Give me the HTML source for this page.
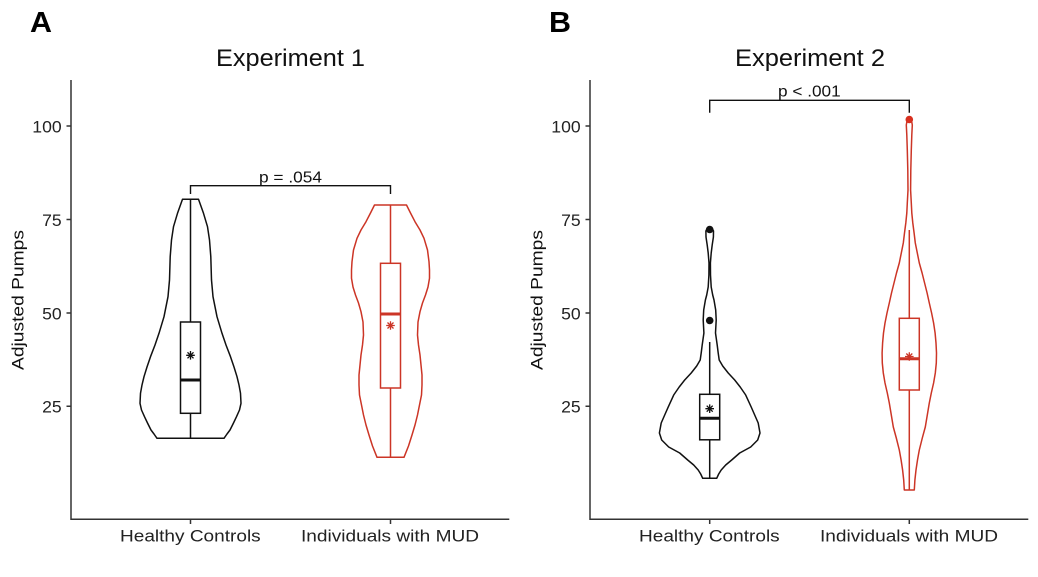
<!DOCTYPE html>
<html>
<head>
<meta charset="utf-8">
<style>
  html,body{margin:0;padding:0;background:#fff;}
  svg{display:block;}
  text{font-family:"Liberation Sans",Arial,sans-serif;}
</style>
</head>
<body>
<svg width="1038" height="577" viewBox="0 0 1038 577" xmlns="http://www.w3.org/2000/svg">
  <rect width="1038" height="577" fill="#fff"/>

  <!-- ===== Panel A ===== -->
  <text x="30" y="32" font-size="29" font-weight="bold" fill="#000" textLength="22" lengthAdjust="spacingAndGlyphs">A</text>
  <text x="216" y="66" font-size="24" fill="#111" textLength="149" lengthAdjust="spacingAndGlyphs">Experiment 1</text>

  <!-- axes -->
  <g stroke="#333" stroke-width="1.5" fill="none">
    <path d="M71,80 V519.3 H509.3"/>
    <path d="M66.5,126 H71 M66.5,219.5 H71 M66.5,313 H71 M66.5,406.3 H71"/>
    <path d="M190.5,519.3 V524 M390.5,519.3 V524"/>
  </g>
  <g font-size="16.5" fill="#222" text-anchor="end">
    <text x="61.7" y="132.3" textLength="29.4" lengthAdjust="spacingAndGlyphs">100</text>
    <text x="61.7" y="225.8" textLength="19.6" lengthAdjust="spacingAndGlyphs">75</text>
    <text x="61.7" y="319.3" textLength="19.6" lengthAdjust="spacingAndGlyphs">50</text>
    <text x="61.7" y="412.6" textLength="19.6" lengthAdjust="spacingAndGlyphs">25</text>
  </g>
  <text x="120" y="541.7" font-size="16.5" fill="#222" textLength="140.7" lengthAdjust="spacingAndGlyphs">Healthy Controls</text>
  <text x="301" y="541.7" font-size="16.5" fill="#222" textLength="178" lengthAdjust="spacingAndGlyphs">Individuals with MUD</text>
  <text transform="translate(23.5,370) rotate(-90)" x="0" y="0" font-size="17" fill="#111" textLength="140" lengthAdjust="spacingAndGlyphs">Adjusted Pumps</text>

  <!-- bracket A -->
  <path d="M190.5,194 V185.7 H390.5 V194" stroke="#111" stroke-width="1.4" fill="none"/>
  <text x="259" y="182.7" font-size="16" fill="#111" textLength="63" lengthAdjust="spacingAndGlyphs">p = .054</text>

  <!-- violin A1 -->
  <polygon fill="none" stroke="#111" stroke-width="1.5" stroke-linejoin="round"
    points="182.5,199.3 177.5,213.3 173.5,226.7 171.5,240 170.2,256.7 169.5,280 168,296.7 164,316.7 159,333.3 155,345 150.5,356.7 147,367 144,376.7 142,385 140.5,393.3 140,403.3 141.5,410 144.5,416.7 147.5,423 151,430 154,434 157,438.3 224,438.3 227,434 230,430 233.5,423 236.5,416.7 239.5,410 241,403.3 240.5,393.3 239,385 237,376.7 234,367 230.5,356.7 226,345 222,333.3 217,316.7 213,296.7 211.5,280 210.8,256.7 209.5,240 207.5,226.7 203.5,213.3 198.5,199.3"/>
  <g stroke="#111" stroke-width="1.5" fill="none">
    <path d="M190.5,199.3 V322 M190.5,413.3 V438.3"/>
    <rect x="180.5" y="322" width="20" height="91.3" fill="#fff"/>
    <path d="M180.5,380 H200.5" stroke-width="3"/>
    <path d="M186.2,355.3 H194.8 M190.5,351 V359.6 M187.5,352.3 L193.5,358.3 M187.5,358.3 L193.5,352.3" stroke-width="1.3"/>
  </g>

  <!-- violin A2 -->
  <polygon fill="none" stroke="#cc3526" stroke-width="1.5" stroke-linejoin="round"
    points="374.5,205 370.5,213 366,221.7 361,230 357,238.3 353.5,250 352,261.7 351.5,270 351.5,278.3 353,287 355.5,295 358.5,303 361,311.7 363,322 363.5,335 362.5,345 361,355 360,365 359,375 359,385 359.5,395 361.5,405 363.5,415 366,425 369,435 372.5,446 377,457.3 404,457.3 408.5,446 412,435 415,425 417.5,415 419.5,405 421.5,395 422,385 422,375 421,365 420,355 418.5,345 417.5,335 418,322 420,311.7 422.5,303 425.5,295 428,287 429.5,278.3 429.5,270 429,261.7 427.5,250 424,238.3 420,230 415,221.7 410.5,213 406.5,205"/>
  <g stroke="#cc3526" stroke-width="1.5" fill="none">
    <path d="M390.5,205 V263.3 M390.5,388 V457.3"/>
    <rect x="380.5" y="263.3" width="20" height="124.7" fill="#fff"/>
    <path d="M380.5,314 H400.5" stroke-width="3"/>
    <path d="M386.2,325.5 H394.8 M390.5,321.2 V329.8 M387.5,322.5 L393.5,328.5 M387.5,328.5 L393.5,322.5" stroke-width="1.3"/>
  </g>

  <!-- ===== Panel B ===== -->
  <text x="549" y="32" font-size="29" font-weight="bold" fill="#000" textLength="22" lengthAdjust="spacingAndGlyphs">B</text>
  <text x="735" y="66" font-size="24" fill="#111" textLength="150" lengthAdjust="spacingAndGlyphs">Experiment 2</text>

  <g stroke="#333" stroke-width="1.5" fill="none">
    <path d="M590,80 V519.3 H1028.3"/>
    <path d="M585.5,126 H590 M585.5,219.5 H590 M585.5,313 H590 M585.5,406.3 H590"/>
    <path d="M709.7,519.3 V524 M909.3,519.3 V524"/>
  </g>
  <g font-size="16.5" fill="#222" text-anchor="end">
    <text x="580.7" y="132.3" textLength="29.4" lengthAdjust="spacingAndGlyphs">100</text>
    <text x="580.7" y="225.8" textLength="19.6" lengthAdjust="spacingAndGlyphs">75</text>
    <text x="580.7" y="319.3" textLength="19.6" lengthAdjust="spacingAndGlyphs">50</text>
    <text x="580.7" y="412.6" textLength="19.6" lengthAdjust="spacingAndGlyphs">25</text>
  </g>
  <text x="639" y="541.7" font-size="16.5" fill="#222" textLength="140.7" lengthAdjust="spacingAndGlyphs">Healthy Controls</text>
  <text x="820" y="541.7" font-size="16.5" fill="#222" textLength="178" lengthAdjust="spacingAndGlyphs">Individuals with MUD</text>
  <text transform="translate(542.5,370) rotate(-90)" x="0" y="0" font-size="17" fill="#111" textLength="140" lengthAdjust="spacingAndGlyphs">Adjusted Pumps</text>

  <!-- bracket B -->
  <path d="M709.7,112.7 V100.3 H909.3 V112.7" stroke="#111" stroke-width="1.4" fill="none"/>
  <text x="778" y="96.7" font-size="16" fill="#111" textLength="62.7" lengthAdjust="spacingAndGlyphs">p &lt; .001</text>

  <!-- violin B1 -->
  <polygon fill="none" stroke="#111" stroke-width="1.5" stroke-linejoin="round"
    points="707.7,227.5 705.9,231 706,237 707.2,245 708.2,253 709,263 708.9,275 708.2,287 706.7,295 705.4,300 703.7,310 703.2,320 703.9,333 702.2,345 701.2,353 700.2,360 696.7,366 691.2,373 684.7,380 679.2,387 673.7,395 668.2,407 664.7,415 661.2,423 659.4,433 661.7,440 668.7,447 679.7,453 687.7,460 693.7,465 698.2,470 700.7,474 702.7,478.3 716.7,478.3 718.7,474 721.2,470 725.7,465 731.7,460 739.7,453 750.7,447 757.7,440 760,433 758.2,423 754.7,415 751.2,407 745.7,395 740.2,387 734.7,380 728.2,373 722.7,366 719.2,360 718.2,353 717.2,345 715.5,333 716.2,320 715.7,310 714,300 712.7,295 711.2,287 710.5,275 710.4,263 711.2,253 712.2,245 713.4,237 713.5,231 711.7,227.5"/>
  <g stroke="#111" stroke-width="1.5" fill="none">
    <path d="M709.7,342 V394.3 M709.7,439.8 V478.3"/>
    <rect x="699.7" y="394.3" width="20" height="45.5" fill="#fff"/>
    <path d="M699.7,418.2 H719.7" stroke-width="3"/>
    <path d="M705.4,408.7 H714 M709.7,404.4 V413 M706.7,405.7 L712.7,411.7 M706.7,411.7 L712.7,405.7" stroke-width="1.3"/>
  </g>
  <circle cx="709.7" cy="229.5" r="3.8" fill="#111"/>
  <circle cx="709.7" cy="320.5" r="3.8" fill="#111"/>

  <!-- violin B2 -->
  <polygon fill="none" stroke="#cc3526" stroke-width="1.5" stroke-linejoin="round"
    points="907.3,119.3 906.3,125 906.8,135 907.3,150 907.8,170 908,190 907.3,203 906.8,213 905.8,223 904.5,233 903.3,243 901.3,253 899.3,263 896.5,273 894,283 891.5,293 889.3,303 887,313 885,323 883.5,333 882.6,343 882.1,353 882.3,363 883.3,373 885,383 887.3,393 889.3,403 891.3,415 893.3,427 896.3,438 899.3,450 901.1,460 902.6,470 903.7,480 904.3,490 914.3,490 914.9,480 916,470 917.5,460 919.3,450 922.3,438 925.3,427 927.3,415 929.3,403 931.3,393 933.6,383 935.3,373 936.3,363 936.5,353 936,343 935.1,333 933.6,323 931.6,313 929.3,303 927.1,293 924.6,283 922.1,273 919.3,263 917.3,253 915.3,243 914.1,233 912.8,223 911.8,213 911.3,203 910.6,190 910.8,170 911.3,150 911.8,135 912.3,125 911.3,119.3"/>
  <g stroke="#cc3526" stroke-width="1.5" fill="none">
    <path d="M909.3,230 V318.3 M909.3,390 V490"/>
    <rect x="899.3" y="318.3" width="20" height="71.7" fill="#fff"/>
    <path d="M899.3,358.8 H919.3" stroke-width="3"/>
    <path d="M905,356.5 H913.6 M909.3,352.2 V360.8 M906.3,353.5 L912.3,359.5 M906.3,359.5 L912.3,353.5" stroke-width="1.3"/>
  </g>
  <circle cx="909.3" cy="119.5" r="3.8" fill="#d8301f"/>
</svg>
</body>
</html>
